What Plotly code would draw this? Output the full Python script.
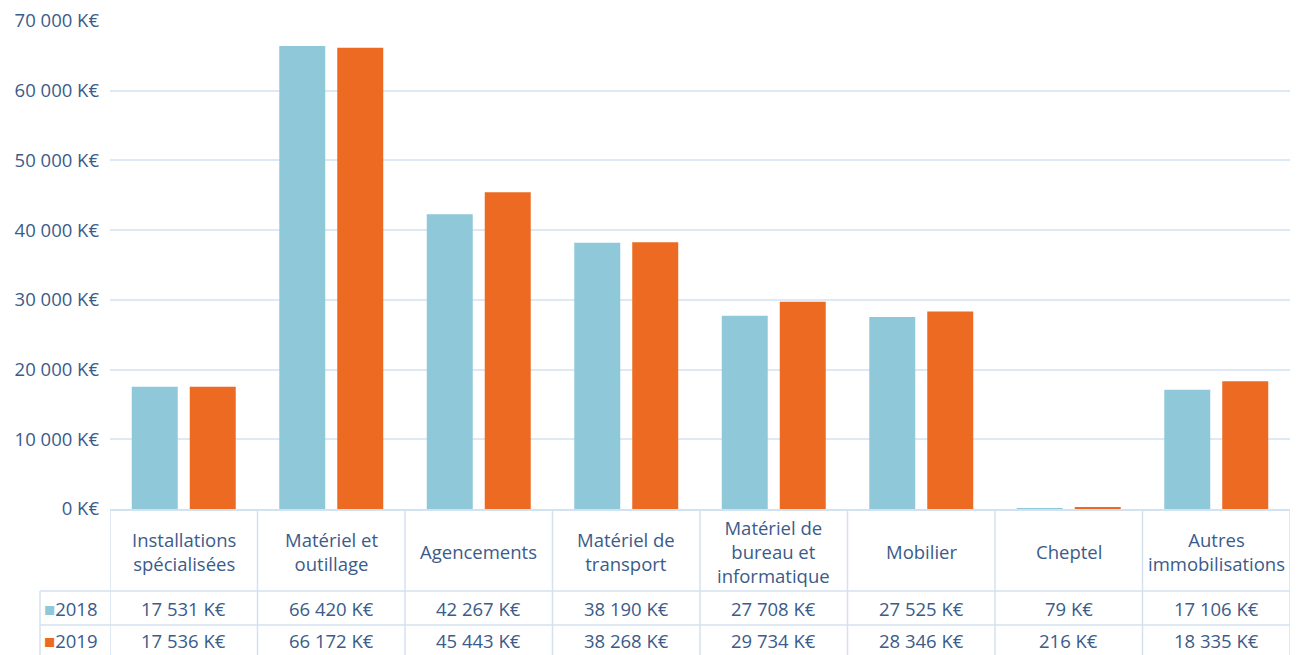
import plotly.graph_objects as go

categories = ["Installations<br>spécialisées", "Matériel et<br>outillage", "Agencements",
              "Matériel de<br>transport", "Matériel de<br>bureau et<br>informatique",
              "Mobilier", "Cheptel", "Autres<br>immobilisations"]
values_2018 = [17531, 66420, 42267, 38190, 27708, 27525, 79, 17106]
values_2019 = [17536, 66172, 45443, 38268, 29734, 28346, 216, 18335]
series_names = ["2018", "2019"]
tick_vals = [0, 10000, 20000, 30000, 40000, 50000, 60000, 70000]
tick_text = ["0 K€", "10 000 K€", "20 000 K€", "30 000 K€", "40 000 K€", "50 000 K€", "60 000 K€", "70 000 K€"]

C18 = "#8fc9d9"
C19 = "#ec6a22"
TXT = "#3b5b8a"
GRID = "#dde9f5"
BORDER = "#d3e2f1"
FONT = "Open Sans"
FS = 18.5

def fmt(v):
    return f"{v:,}".replace(",", " ") + " K€"

n = len(categories)
xs = list(range(n))

fig = go.Figure()
fig.add_trace(go.Bar(x=xs, y=values_2018, name=series_names[0], marker=dict(color=C18, line=dict(width=0))))
fig.add_trace(go.Bar(x=xs, y=values_2019, name=series_names[1], marker=dict(color=C19, line=dict(width=0))))

OFF = 8  # page body margin
W, H = 1304 - OFF, 655 - OFF
ml, mt = 110 - OFF, 21 - OFF
mr = W - (1290 - OFF)
mb = H - (509 - OFF)
ph = H - mt - mb
pw = W - ml - mr

def py(pix):
    return (509 - pix) / ph

def px(pix):
    return (pix - 110) / pw

y_head_bot = py(591)
y_r1_bot = py(625)
y_bottom = py(662)

shapes = []
for i in range(n + 1):
    shapes.append(dict(type="line", xref="x", yref="paper", x0=i - 0.5, x1=i - 0.5,
                       y0=0, y1=y_bottom, line=dict(color=BORDER, width=1.5)))
shapes.append(dict(type="line", xref="paper", yref="paper", x0=px(40), x1=px(40),
                   y0=y_head_bot, y1=y_bottom, line=dict(color=BORDER, width=1.5)))
for yy in (y_head_bot, y_r1_bot):
    shapes.append(dict(type="line", xref="paper", yref="paper", x0=px(40), x1=1,
                       y0=yy, y1=yy, line=dict(color=BORDER, width=1.5)))

tf = dict(family=FONT, size=FS, color=TXT)
annotations = []
for i, c in enumerate(categories):
    annotations.append(dict(x=i, y=py(551), xref="x", yref="paper", text=c, showarrow=False,
                            xanchor="center", yanchor="middle", font=tf, align="center"))
    annotations.append(dict(x=i, y=py(608), xref="x", yref="paper", text=fmt(values_2018[i]),
                            xanchor="center", yanchor="middle", showarrow=False, font=tf))
    annotations.append(dict(x=i, y=py(640), xref="x", yref="paper", text=fmt(values_2019[i]),
                            xanchor="center", yanchor="middle", showarrow=False, font=tf))
annotations.append(dict(x=px(42), y=py(608), xref="paper", yref="paper", xanchor="left", yanchor="middle",
                        text=f"<span style='color:{C18}'>■</span>{series_names[0]}", showarrow=False, font=tf))
annotations.append(dict(x=px(42), y=py(640), xref="paper", yref="paper", xanchor="left", yanchor="middle",
                        text=f"<span style='color:{C19}'>■</span>{series_names[1]}", showarrow=False, font=tf))

fig.update_layout(
    width=W, height=H,
    margin=dict(l=ml, r=mr, t=mt, b=mb, autoexpand=False),
    paper_bgcolor="white", plot_bgcolor="white",
    barmode="group", bargap=0.2136, bargroupgap=0.207,
    showlegend=False,
    shapes=shapes, annotations=annotations,
    xaxis=dict(range=[-0.5, n - 0.5], showticklabels=False, showgrid=False, zeroline=False,
               showline=True, linecolor=BORDER, linewidth=1.5, ticks="", automargin=False),
    yaxis=dict(range=[0, 70000], tickvals=tick_vals, ticktext=tick_text, showgrid=True, gridcolor=GRID,
               gridwidth=1.5, zeroline=False, showline=False, ticks="", ticklabelstandoff=10,
               ticklabeloverflow="allow", automargin=False, tickfont=tf),
)

fig.write_html("out.html")
